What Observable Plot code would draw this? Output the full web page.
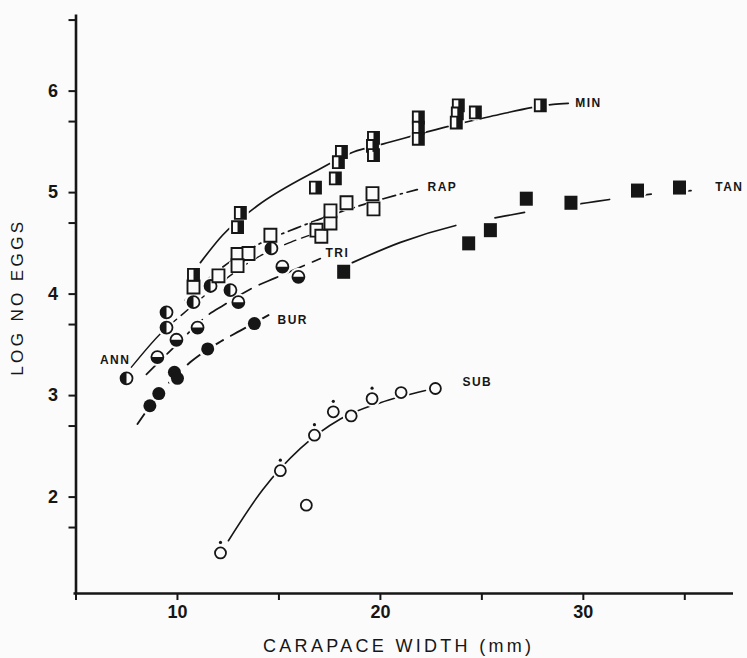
<!DOCTYPE html>
<html>
<head>
<meta charset="utf-8">
<script src="https://cdn.jsdelivr.net/npm/d3@7"></script>
<script src="https://cdn.jsdelivr.net/npm/@observablehq/plot@0.6"></script>
<style>
  html, body { margin: 0; padding: 0; background: #fbfbfb; }
</style>
</head>
<body>
<div id="chart"></div>
<script>
// ---- tick values ----
const xTicks = [5, 10, 15, 20, 25, 30, 35];
const xTickLabels = [10, 20, 30];
const yTicks = [2, 3, 4, 5, 6];
const yMinorTicks = [1.7, 2.7, 3.7, 4.7, 5.7, 6.7];

// ---- observed points (carapace width mm, log no. eggs) ----
const annX = [7.49, 9.46, 9.46, 10.79, 11.63, 12.61, 14.63];
const annY = [3.17, 3.67, 3.82, 3.92, 4.08, 4.04, 4.45];

const triX = [9.01, 9.95, 10.99, 13.00, 15.17, 15.96];
const triY = [3.38, 3.55, 3.67, 3.92, 4.27, 4.17];

const burX = [8.64, 9.08, 9.85, 10.00, 11.49, 13.79];
const burY = [2.90, 3.02, 3.23, 3.17, 3.46, 3.71];

const subX = [12.12, 15.07, 16.35, 16.75, 17.68, 18.56, 19.59, 21.02, 22.71];
const subY = [1.45, 2.26, 1.92, 2.61, 2.84, 2.80, 2.97, 3.03, 3.07];
const subMarked = [true, true, false, true, true, false, true, false, false];

const rapX = [10.79, 12.02, 12.96, 13.50, 12.96, 14.58, 16.85, 17.09, 17.54, 17.54, 18.33, 19.61, 19.66];
const rapY = [4.07, 4.18, 4.39, 4.40, 4.28, 4.58, 4.63, 4.57, 4.70, 4.82, 4.90, 4.99, 4.84];

const minX = [10.79, 13.10, 12.96, 16.80, 17.78, 18.08, 17.93, 19.66, 19.61, 19.66, 21.87, 21.87, 21.87, 23.84, 23.79, 23.74, 24.68, 27.88];
const minY = [4.19, 4.80, 4.66, 5.05, 5.14, 5.40, 5.30, 5.54, 5.46, 5.37, 5.74, 5.64, 5.53, 5.86, 5.78, 5.69, 5.79, 5.86];

const tanX = [18.19, 24.35, 25.42, 27.19, 29.39, 32.67, 34.74];
const tanY = [4.22, 4.50, 4.63, 4.94, 4.90, 5.02, 5.05];

// ---- fitted curves ----
const annFitX = [7.73, 9.16, 10.30, 12.12, 13.84, 15.57, 16.80];
const annFitY = [3.28, 3.61, 3.81, 4.11, 4.35, 4.51, 4.60];
const rapFitX = [10.39, 12.12, 13.99, 15.86, 18.03, 20.15, 21.82];
const rapFitY = [3.94, 4.25, 4.49, 4.65, 4.81, 4.94, 5.03];
const minFitX = [11.13, 12.22, 13.94, 16.90, 18.67, 20.15, 23.10, 25.42, 28.52, 29.26];
const minFitY = [4.31, 4.58, 4.87, 5.22, 5.40, 5.48, 5.64, 5.75, 5.87, 5.88];
const triFitX = [8.47, 9.90, 11.48, 12.27, 13.69, 14.83, 17.04];
const triFitY = [3.21, 3.49, 3.79, 3.89, 4.06, 4.16, 4.35];
const tanFitX = [18.62, 20.99, 23.79, 26.16, 27.54, 30.20, 31.92, 34.04, 36.11];
const tanFitY = [4.31, 4.51, 4.68, 4.77, 4.82, 4.90, 4.95, 5.00, 5.03];
const burFitX = [8.03, 9.16, 10.64, 12.02, 13.10, 14.73];
const burFitY = [2.72, 3.03, 3.33, 3.52, 3.64, 3.82];
const subFitX = [12.51, 14.19, 16.06, 18.03, 20.00, 22.22];
const subFitY = [1.57, 2.07, 2.48, 2.77, 2.93, 3.05];

// ---- series labels ----
const seriesNames = ["ANN", "BUR", "TRI", "RAP", "MIN", "TAN", "SUB"];
const seriesLabelX = [7.68, 14.93, 17.29, 22.32, 29.6, 36.5, 24.04];
const seriesLabelY = [3.35, 3.74, 4.40, 5.05, 5.88, 5.05, 3.13];

// ---- build tables ----
const pts = (xs, ys) => xs.map((x, i) => ({x, y: ys[i], i}));
const ann = pts(annX, annY), tri = pts(triX, triY), bur = pts(burX, burY);
const sub = pts(subX, subY), rap = pts(rapX, rapY), mn = pts(minX, minY), tan = pts(tanX, tanY);
const labels = seriesNames.map((name, i) => ({name, x: seriesLabelX[i], y: seriesLabelY[i]}));

const ink = "#161616";
const bg = "#fbfbfb";

// custom symbols
const halfLeft = {draw(ctx, size) { const r = Math.sqrt(size / Math.PI); ctx.moveTo(0, -r); ctx.arc(0, 0, r, -Math.PI / 2, Math.PI / 2, true); ctx.closePath(); }};
const halfBottom = {draw(ctx, size) { const r = Math.sqrt(size / Math.PI); ctx.moveTo(r, 0); ctx.arc(0, 0, r, 0, Math.PI, false); ctx.closePath(); }};
const box = {draw(ctx, size) { const s = Math.sqrt(size / Math.PI); ctx.rect(-s, -s * 1.08, 2 * s, 2.16 * s); }};
const boxRight = {draw(ctx, size) { const s = Math.sqrt(size / Math.PI); ctx.rect(0, -s * 1.08, s, 2.16 * s); }};

const halo = (data, r) => Plot.dot(data, {x: "x", y: "y", r, fill: bg, stroke: "none"});
const lineOf = (xs, ys, opts) => Plot.line(pts(xs, ys), {x: "x", y: "y", stroke: ink, curve: "monotone-x", ...opts});

const chart = Plot.plot({
  width: 747,
  height: 658,
  marginLeft: 75.5,
  marginRight: 14,
  marginTop: 14.5,
  marginBottom: 65,
  style: {background: bg, color: ink, fontFamily: "Liberation Sans, Arial, sans-serif"},
  x: {domain: [5, 37.4]},
  y: {domain: [1.05, 6.75]},
  marks: [
    // axes
    Plot.ruleX([5], {y1: 1.05, y2: 6.75, stroke: ink, strokeWidth: 2.6}),
    Plot.ruleY([1.05], {x1: 4.9, x2: 37.4, stroke: ink, strokeWidth: 2.6}),
    Plot.axisY({ticks: yTicks, tickSize: 7, tickPadding: 11, fontSize: 18, fontWeight: "bold", tickFormat: d => String(d), label: null, strokeWidth: 2}),
    Plot.axisY({ticks: yMinorTicks, tickSize: 7, tickFormat: () => "", label: null, strokeWidth: 2}),
    Plot.axisX({ticks: xTicks, tickSize: 7, tickPadding: 5, fontSize: 18, fontWeight: "bold", tickFormat: d => xTickLabels.includes(d) ? String(d) : "", label: null, strokeWidth: 2}),
    Plot.text(["LOG NO EGGS"], {x: 5, y: 3.97, dx: -58, rotate: -90, fontSize: 17, fill: ink, textAnchor: "middle"}),
    Plot.text(["CARAPACE WIDTH (mm)"], {x: 20.9, y: 1.05, dy: 53, fontSize: 18, fill: ink, textAnchor: "middle"}),

    // fitted curves
    lineOf(minFitX, minFitY, {strokeWidth: 1.7}),
    lineOf(annFitX, annFitY, {strokeWidth: 1.4, strokeDasharray: "46,8,12,6,12,6,12,6,12,6,12,6,12,6,12,6,12,6,12,6,12,6,12,6"}),
    lineOf(rapFitX, rapFitY, {strokeWidth: 1.7, strokeDasharray: "13,5,2,5"}),
    lineOf(triFitX, triFitY, {strokeWidth: 1.7, strokeDasharray: "20,9"}),
    lineOf(tanFitX, tanFitY, {strokeWidth: 1.7, strokeDasharray: "110,40,30,50,36,26,16,24,16"}),
    lineOf(burFitX, burFitY, {strokeWidth: 1.9, strokeDasharray: "17,9"}),
    lineOf(subFitX, subFitY, {strokeWidth: 1.6}),

    // halos that break the curves around each marker
    halo(ann, 9), halo(tri, 9), halo(bur, 9.5), halo(sub, 8.5), halo(rap, 9), halo(mn, 8.5), halo(tan, 9.5),

    // ANN: vertically half-filled circles
    Plot.dot(ann, {x: "x", y: "y", r: 6, fill: bg, stroke: ink, strokeWidth: 1.8}),
    Plot.dot(ann, {x: "x", y: "y", r: 6, symbol: halfLeft, fill: ink, stroke: "none"}),
    // TRI: horizontally half-filled circles
    Plot.dot(tri, {x: "x", y: "y", r: 6, fill: bg, stroke: ink, strokeWidth: 1.8}),
    Plot.dot(tri, {x: "x", y: "y", r: 6, symbol: halfBottom, fill: ink, stroke: "none"}),
    // BUR: filled circles
    Plot.dot(bur, {x: "x", y: "y", r: 6.5, fill: ink, stroke: "none"}),
    // SUB: open circles, some with a dot above
    Plot.dot(sub, {x: "x", y: "y", r: 5.5, fill: bg, stroke: ink, strokeWidth: 1.8}),
    Plot.dot(sub.filter(d => subMarked[d.i]), {x: "x", y: "y", dy: -10.5, r: 1.6, fill: ink, stroke: "none"}),
    // RAP: open squares
    Plot.dot(rap, {x: "x", y: "y", r: 6, symbol: box, fill: bg, stroke: ink, strokeWidth: 1.9}),
    // MIN: half-filled squares
    Plot.dot(mn, {x: "x", y: "y", r: 5.5, symbol: box, fill: bg, stroke: ink, strokeWidth: 1.9}),
    Plot.dot(mn, {x: "x", y: "y", r: 5.5, symbol: boxRight, fill: ink, stroke: "none"}),
    // TAN: filled squares
    Plot.dot(tan, {x: "x", y: "y", r: 6.5, symbol: box, fill: ink, stroke: "none"}),

    // series labels
    Plot.text(labels.filter(d => d.name === "ANN"), {x: "x", y: "y", text: "name", fontSize: 12, fontWeight: "bold", fill: ink, textAnchor: "end"}),
    Plot.text(labels.filter(d => d.name !== "ANN"), {x: "x", y: "y", text: "name", fontSize: 12, fontWeight: "bold", fill: ink, textAnchor: "start"})
  ]
});

// letter spacing of the hand-lettered titles and series labels
const spacing = {"LOG NO EGGS": "3.4px", "CARAPACE WIDTH (mm)": "3.3px"};
d3.select(chart).selectAll("text").each(function () {
  const t = this.textContent;
  if (spacing[t]) this.setAttribute("letter-spacing", spacing[t]);
  else if (seriesNames.includes(t)) this.setAttribute("letter-spacing", "1.5px");
});
document.getElementById("chart").appendChild(chart);
</script>
</body>
</html>
